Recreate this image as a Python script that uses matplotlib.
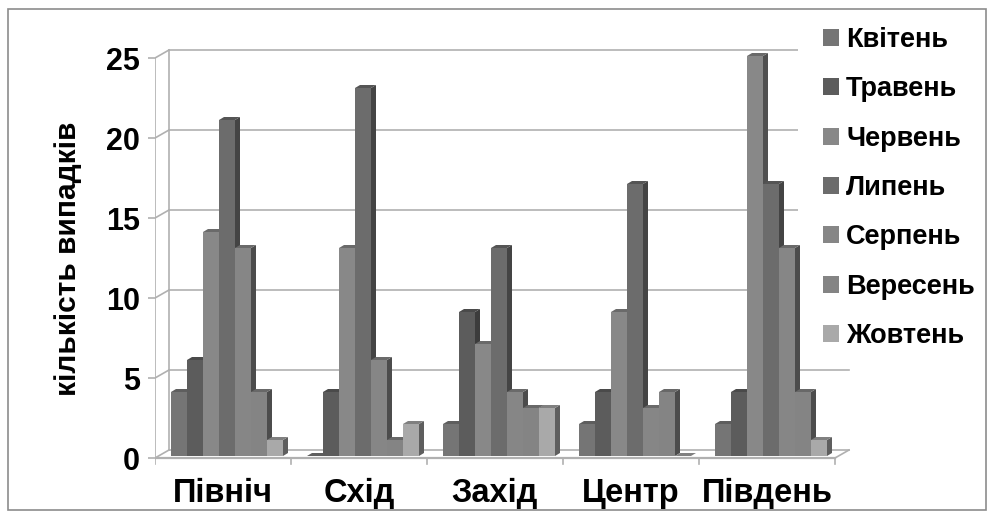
import matplotlib
matplotlib.use("Agg")
import matplotlib.pyplot as plt
from matplotlib.patches import Patch, Polygon, Rectangle

plt.rcParams['font.family'] = ['Liberation Sans', 'DejaVu Sans']
plt.rcParams['font.weight'] = 'bold'

regions = ["Північ", "Схід", "Захід", "Центр", "Південь"]
months = ["Квітень", "Травень", "Червень", "Липень", "Серпень", "Вересень", "Жовтень"]
kviten = [4, 0, 2, 2, 2]
traven = [6, 4, 9, 4, 4]
cherven = [14, 13, 7, 9, 25]
lypen = [21, 23, 13, 17, 17]
serpen = [13, 6, 4, 3, 13]
veresen = [4, 1, 3, 4, 4]
zhovten = [1, 2, 3, 0, 1]
series = [kviten, traven, cherven, lypen, serpen, veresen, zhovten]
yticks = [0, 5, 10, 15, 20, 25]
ylabel = "кількість випадків"

front = ['#757575', '#5c5c5c', '#888888', '#6c6c6c', '#868686', '#848484', '#a9a9a9']
side = ['#4a4a4a', '#3c3c3c', '#505050', '#444444', '#4c4c4c', '#4c4c4c', '#5e5e5e']
top = ['#5e5e5e', '#4a4a4a', '#6a6a6a', '#555555', '#6a6a6a', '#686868', '#808080']
grid = '#b0b0b0'

W, H = 993, 525
fig = plt.figure(figsize=(W / 100, H / 100), dpi=100, facecolor='white')
fig.add_artist(Rectangle((8 / W, 1 - 510 / H), 978 / W, 501 / H, transform=fig.transFigure,
                         fill=False, ec='#8c8c8c', lw=1.2))

PX_X, PX_Y = 136.0, 16.0
L, B, T = 155, 470, 40
R = 860
ax = fig.add_axes([L / W, 1 - B / H, (R - L) / W, (B - T) / H])
ax.set_xlim(0, (R - L) / PX_X)
ax.set_ylim(-(B - 458) / PX_Y, (458 - T) / PX_Y)
ax.patch.set_visible(False)
for s in ax.spines.values():
    s.set_visible(False)

wall_dx, wall_dy = 14 / PX_X, 8 / PX_Y
bar_w = 16 / PX_X
bar_start = 16 / PX_X
dx, dy = 5 / PX_X, 3 / PX_Y
lift = 2 / PX_Y
n = len(regions)

# walls, floor, gridlines
for v in yticks:
    ax.plot([wall_dx, n + wall_dx], [v + wall_dy] * 2, color=grid, lw=1.2, zorder=1)
    ax.plot([0, wall_dx], [v, v + wall_dy], color=grid, lw=1.2, zorder=1)
ax.plot([0, 0], [0, 25], color=grid, lw=1.2, zorder=1)
ax.plot([wall_dx, wall_dx], [wall_dy, 25 + wall_dy], color=grid, lw=1.2, zorder=1)
ax.plot([0, n], [0, 0], color=grid, lw=1.6, zorder=1)
ax.plot([n, n + wall_dx], [0, wall_dy], color=grid, lw=1.2, zorder=1)
for i in range(n + 1):
    ax.plot([i, i], [0, -0.4], color=grid, lw=1.2, zorder=1)

# white legend area masks the gridlines behind it, but not the bars
ax.add_patch(Rectangle((798 / W, 1 - 355 / H), 186 / W, 340 / H, transform=fig.transFigure,
                       fc='white', ec='none', zorder=1.5, clip_on=False))

# bars
z = 2
for c in range(n):
    for j, vals in enumerate(series):
        v = vals[c]
        x0 = c + bar_start + j * bar_w
        x1 = x0 + bar_w
        y0, y1 = lift, lift + v
        ax.add_patch(Polygon([(x1, y0), (x1 + dx, y0 + dy), (x1 + dx, y1 + dy), (x1, y1)],
                             fc=side[j], ec='none', zorder=z))
        ax.add_patch(Polygon([(x0, y1), (x0 + dx, y1 + dy), (x1 + dx, y1 + dy), (x1, y1)],
                             fc=top[j], ec='none', zorder=z))
        ax.bar(x0, v, width=bar_w, bottom=lift, align='edge', color=front[j], zorder=z + 0.5)
        z += 1

ax.set_yticks(yticks)
ax.set_yticklabels([str(v) for v in yticks], fontsize=22, fontweight='bold')
ax.set_xticks([i + 0.5 for i in range(n)])
ax.set_xticklabels(regions, fontsize=23.5, fontweight='bold')
ax.tick_params(axis='y', length=5, color=grid, pad=6, width=1.2)
ax.tick_params(axis='x', length=0, pad=6)
fig.text(68 / W, 1 - 259 / H, ylabel, rotation=90, ha='center', va='center',
         fontsize=21.5, fontweight='bold')

handles = [Patch(fc=front[j], ec='none', label=m) for j, m in enumerate(months)]
leg = fig.legend(handles=handles, loc='upper left', bbox_to_anchor=(815 / W, 1 - 19 / H),
                 bbox_transform=fig.transFigure, frameon=False, fontsize=19.5, handlelength=0.59,
                 handleheight=0.59, handletextpad=0.26, labelspacing=0.86, borderpad=0.3,
                 borderaxespad=0)
leg.set_zorder(6)

fig.savefig("out.png", dpi=100)
